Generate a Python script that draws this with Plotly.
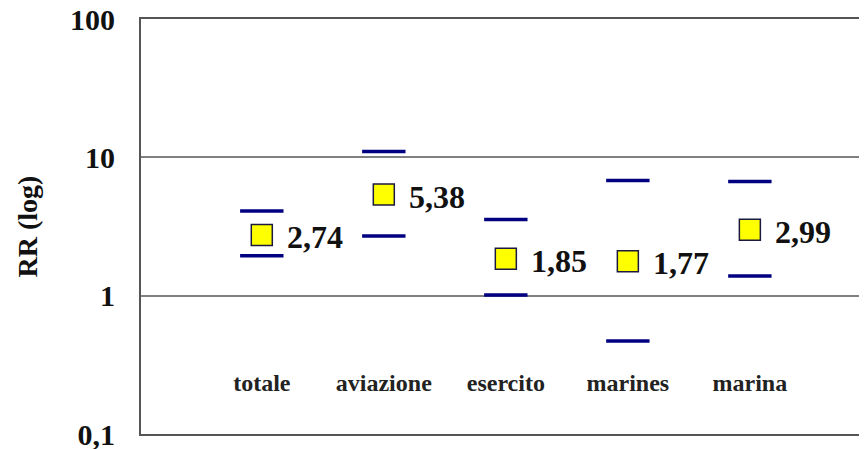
import math
import plotly.graph_objects as go

categories = ["totale", "aviazione", "esercito", "marines", "marina"]
rr = [2.74, 5.38, 1.85, 1.77, 2.99]
rr_labels = ["2,74", "5,38", "1,85", "1,77", "2,99"]
upper = [4.1, 11.0, 3.55, 6.8, 6.7]
lower = [1.94, 2.7, 1.01, 0.47, 1.39]
cat_label_y = [0.225] * len(categories)
y_tickvals = [0.1, 1, 10, 100]
y_ticktext = ["0,1", "1", "10", "100"]

SERIF = "Liberation Serif, Times New Roman, serif"
NAVY = "#000080"

fig = go.Figure()

fig.add_trace(go.Scatter(
    x=categories, y=upper, mode="markers",
    marker=dict(symbol="line-ew", size=31, line=dict(color=NAVY, width=3.5)),
    showlegend=False, hoverinfo="skip"))
fig.add_trace(go.Scatter(
    x=categories, y=lower, mode="markers",
    marker=dict(symbol="line-ew", size=31, line=dict(color=NAVY, width=3.5)),
    showlegend=False, hoverinfo="skip"))
fig.add_trace(go.Scatter(
    x=categories, y=rr, mode="markers",
    marker=dict(symbol="square", size=21, color="#FFFF00",
                line=dict(color="#1a1a40", width=1.5)),
    showlegend=False))
fig.add_trace(go.Scatter(
    x=categories, y=cat_label_y, mode="text", text=categories,
    textposition="middle center",
    textfont=dict(family=SERIF, size=24, color="#222222", weight="bold"),
    showlegend=False, hoverinfo="skip"))

for c, v, t in zip(categories, rr, rr_labels):
    fig.add_annotation(x=c, y=math.log10(v), yref="y", text=t, showarrow=False,
                       xanchor="left", yanchor="middle", xshift=23, yshift=-2,
                       font=dict(family=SERIF, size=32, color="#111111", weight="bold"))

fig.update_layout(
    width=859, height=441,
    margin=dict(l=133, r=0, t=11, b=15, pad=0, autoexpand=False),
    paper_bgcolor="white", plot_bgcolor="white",
    xaxis=dict(type="category", range=[-0.99, 4.96], showticklabels=False,
               showgrid=False, zeroline=False, showline=True, mirror=True,
               linecolor="#555555", linewidth=2, ticks="", automargin=False),
    yaxis=dict(type="log", range=[-1, 2], tickvals=y_tickvals, ticktext=y_ticktext,
               showgrid=True, gridcolor="#808080", gridwidth=2, automargin=False,
               showline=True, linecolor="#555555", linewidth=2, ticks="",
               ticklabelstandoff=18, ticklabeloverflow="allow",
               tickfont=dict(family=SERIF, size=30, color="#111111", weight="bold"),
               title=dict(text="RR (log)", standoff=24,
                          font=dict(family=SERIF, size=28, color="#111111", weight="bold"))),
)

fig.write_html("out.html")
